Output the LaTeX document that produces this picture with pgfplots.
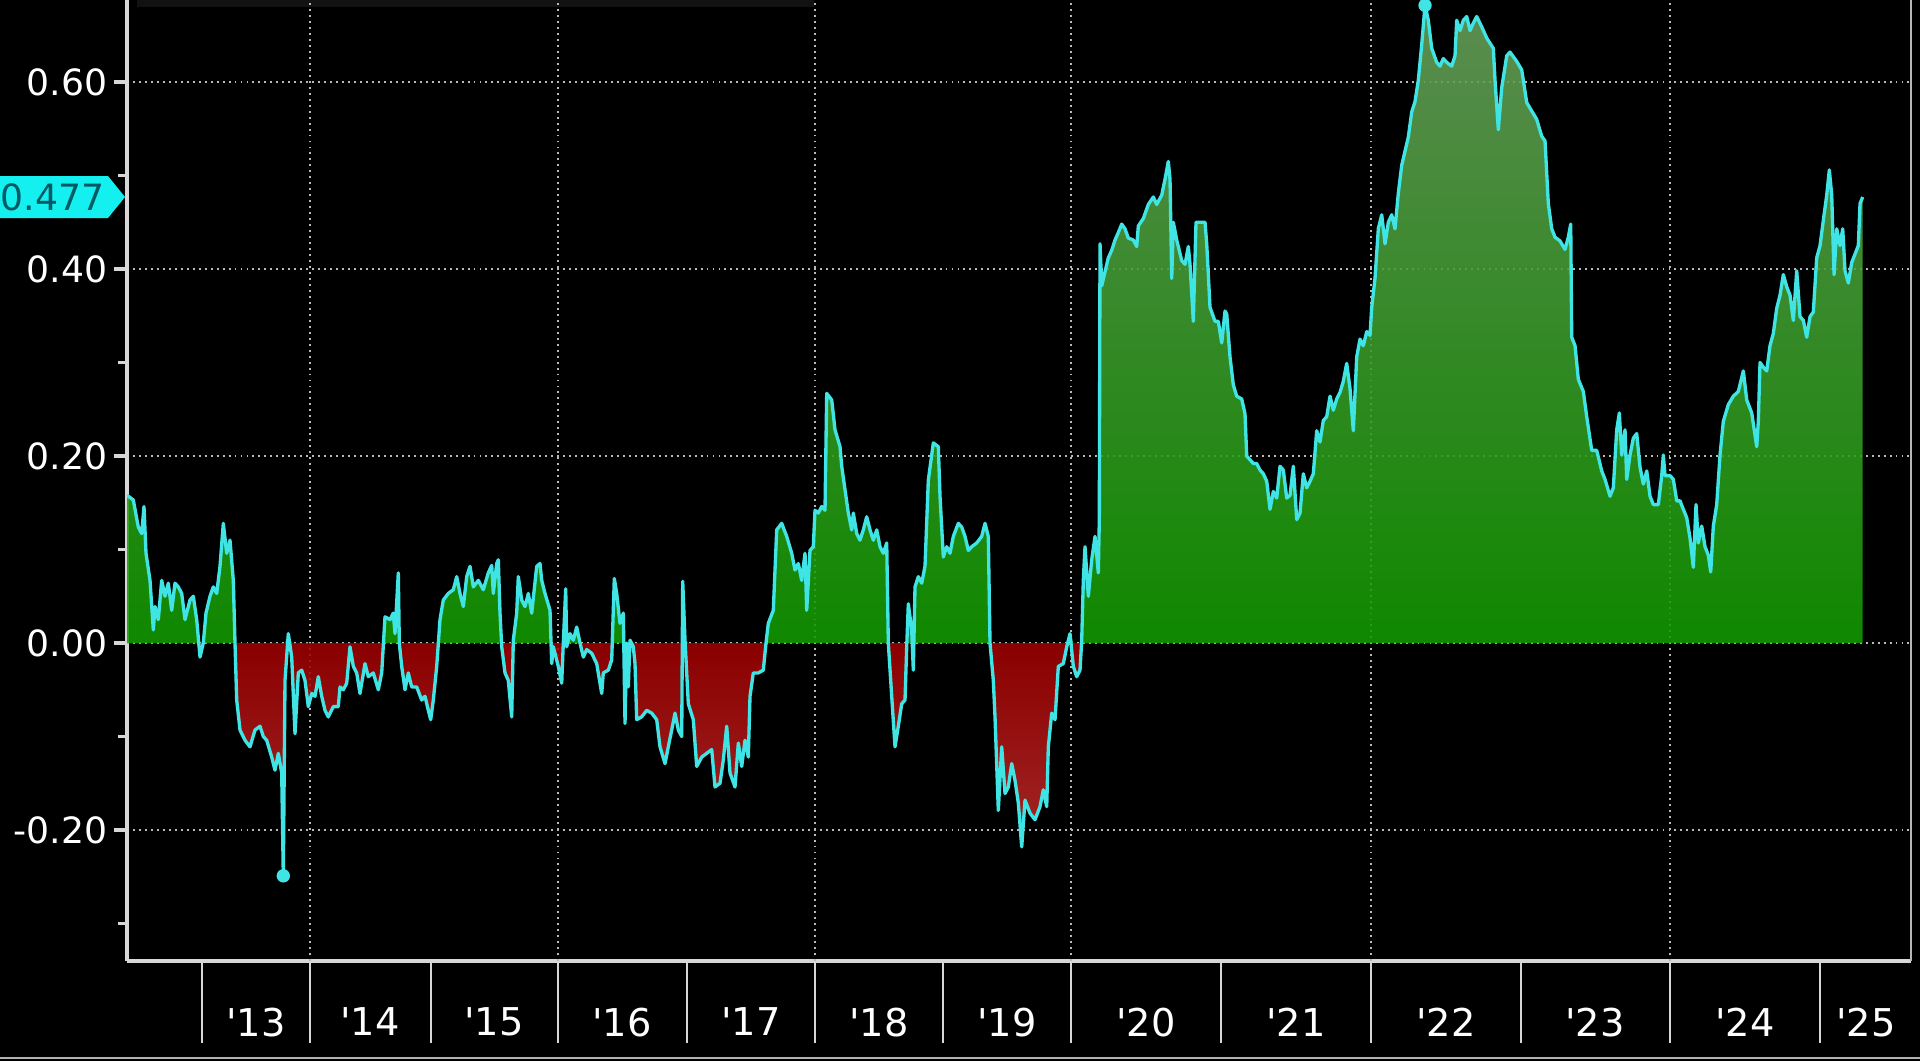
\documentclass[border=0pt]{standalone}
\usepackage{pgfplots}
\pgfplotsset{compat=1.18}
\usepackage{pgfplotstable}
\usepackage{fontspec}
\setmainfont{DejaVu Sans}
\usetikzlibrary{calc}

\definecolor{bbcyan}{RGB}{64,228,228}
\definecolor{tagcyan}{RGB}{20,240,240}
\definecolor{tagtext}{RGB}{0,90,100}
\definecolor{greenlo}{RGB}{18,155,0}
\definecolor{greenhi}{RGB}{105,160,92}
\definecolor{redlo}{RGB}{190,50,50}
\definecolor{redhi}{RGB}{158,0,0}
\definecolor{gridgray}{RGB}{185,185,185}
\definecolor{axisgray}{RGB}{215,215,215}

% t = position along the (non-uniform) time axis, v = correlation
\pgfplotstableread{
t v
127 0.158
133.3 0.153
138.3 0.124
141.7 0.117
144.0 0.146
146.0 0.096
150.0 0.067
153.3 0.014
155.0 0.039
158.3 0.025
161.7 0.067
165.0 0.050
168.3 0.064
171.7 0.035
175.0 0.064
178.3 0.060
181.7 0.053
185.0 0.025
190.0 0.046
193.3 0.050
196.7 0.025
200.0 -0.015
203.3 0.000
206.0 0.032
210.0 0.050
213.3 0.060
216.7 0.053
220.0 0.082
223.3 0.128
226.7 0.096
230.0 0.110
233.3 0.067
235.0 0.000
236.7 -0.061
240.0 -0.093
245.0 -0.104
250.0 -0.111
255.0 -0.093
260.0 -0.089
263.3 -0.100
266.7 -0.104
271.7 -0.122
275.0 -0.136
278.3 -0.118
281.7 -0.139
283.3 -0.249
285.0 -0.040
288.3 0.010
291.7 -0.015
295.0 -0.097
298.3 -0.032
301.7 -0.029
305.0 -0.040
308.3 -0.068
311.7 -0.054
315.0 -0.057
318.3 -0.036
321.7 -0.057
325.0 -0.072
328.3 -0.079
333.3 -0.068
338.3 -0.068
340.0 -0.047
343.3 -0.050
346.7 -0.043
350.0 -0.004
353.3 -0.025
356.7 -0.032
360.0 -0.054
365.0 -0.022
368.3 -0.036
373.3 -0.032
378.3 -0.050
381.7 -0.032
385.0 0.028
390.0 0.025
393.3 0.032
395.0 0.010
398.3 0.075
399.3 0.000
401.7 -0.025
405.0 -0.050
408.3 -0.032
411.7 -0.047
416.7 -0.047
421.7 -0.061
425.0 -0.057
428.3 -0.072
430.7 -0.082
433.3 -0.061
436.7 -0.025
440.0 0.025
443.3 0.046
448.3 0.053
453.3 0.057
456.7 0.071
460.0 0.053
463.3 0.039
466.7 0.071
470.0 0.082
473.3 0.060
478.3 0.067
483.3 0.057
488.3 0.075
491.7 0.083
493.3 0.053
496.7 0.085
498.3 0.089
500.0 0.032
501.7 -0.004
505.0 -0.032
508.3 -0.040
511.7 -0.079
513.3 0.003
516.7 0.032
518.3 0.071
521.7 0.046
525.0 0.039
528.3 0.053
531.7 0.032
536.7 0.082
540.0 0.085
541.7 0.067
545.0 0.053
550.0 0.035
551.7 -0.022
553.3 -0.004
555.0 -0.011
558.3 -0.025
561.7 -0.043
563.3 0.000
565.7 0.058
566.7 -0.004
570.0 0.010
573.3 0.003
576.7 0.017
580.0 0.000
583.3 -0.015
586.7 -0.007
591.7 -0.011
596.7 -0.022
601.7 -0.054
603.3 -0.032
608.3 -0.029
611.7 -0.018
614.3 0.069
616.7 0.053
620.0 0.021
623.3 0.032
625.0 -0.086
626.7 0.000
628.3 -0.047
630.0 0.003
633.3 -0.004
635.0 -0.022
636.7 -0.082
641.7 -0.079
646.7 -0.072
651.7 -0.075
656.7 -0.082
660.0 -0.111
665.0 -0.129
668.3 -0.111
671.7 -0.093
675.0 -0.075
678.3 -0.093
681.7 -0.100
682.7 0.066
685.0 0.003
688.3 -0.065
693.3 -0.082
696.7 -0.132
701.7 -0.122
706.7 -0.118
711.7 -0.114
715.0 -0.154
720.0 -0.150
723.3 -0.125
726.7 -0.089
730.0 -0.139
735.0 -0.154
738.3 -0.107
741.7 -0.132
745.0 -0.104
748.3 -0.122
750.0 -0.057
753.3 -0.032
758.3 -0.032
763.3 -0.029
766.0 0.000
768.3 0.021
773.3 0.035
776.7 0.121
781.7 0.128
786.7 0.114
791.7 0.096
795.0 0.078
798.3 0.085
801.7 0.067
805.0 0.096
806.7 0.035
810.0 0.099
813.3 0.103
815.0 0.142
818.3 0.139
821.7 0.146
825.0 0.142
826.7 0.267
831.7 0.260
835.0 0.228
840.0 0.210
841.7 0.189
845.0 0.164
848.3 0.139
851.7 0.121
853.3 0.139
856.7 0.117
860.0 0.110
863.3 0.121
866.7 0.135
870.0 0.121
873.3 0.110
876.7 0.121
880.0 0.103
883.3 0.096
886.7 0.107
888.3 0.000
891.7 -0.057
895.0 -0.111
898.3 -0.089
901.7 -0.065
905.0 -0.061
906.7 -0.004
908.3 0.042
911.7 0.014
913.3 -0.029
915.0 0.060
918.3 0.071
921.7 0.064
925.0 0.082
928.3 0.174
933.3 0.214
938.3 0.210
940.0 0.157
943.3 0.092
946.7 0.103
950.0 0.096
953.3 0.114
958.3 0.128
961.7 0.124
965.0 0.114
968.3 0.099
971.7 0.103
976.7 0.107
981.7 0.114
985.0 0.128
988.3 0.114
990.0 0.000
993.3 -0.040
995.0 -0.079
998.3 -0.179
1001.7 -0.111
1005.0 -0.161
1008.3 -0.154
1011.7 -0.129
1015.0 -0.147
1018.3 -0.171
1021.7 -0.218
1025.0 -0.168
1030.0 -0.182
1035.0 -0.189
1040.0 -0.175
1043.3 -0.157
1046.7 -0.175
1048.3 -0.111
1051.7 -0.075
1055.0 -0.082
1058.3 -0.025
1063.3 -0.022
1066.7 -0.004
1070.0 0.010
1073.3 -0.025
1076.7 -0.036
1080.0 -0.029
1081.7 0.003
1083.3 0.067
1085.0 0.103
1088.3 0.050
1091.7 0.089
1095.0 0.114
1098.3 0.075
1099.3 0.132
1100.0 0.427
1101.7 0.382
1105.0 0.397
1108.3 0.412
1111.7 0.420
1115.0 0.431
1118.3 0.439
1121.7 0.448
1125.0 0.443
1128.3 0.433
1133.3 0.431
1136.7 0.424
1138.3 0.446
1143.3 0.454
1148.3 0.469
1153.3 0.477
1156.7 0.469
1161.7 0.479
1165.0 0.496
1168.3 0.515
1170.0 0.496
1171.7 0.390
1173.3 0.450
1176.7 0.431
1181.7 0.409
1185.0 0.405
1188.3 0.424
1190.0 0.405
1193.3 0.344
1196.0 0.450
1200.0 0.450
1205.0 0.450
1206.7 0.427
1210.0 0.359
1215.0 0.344
1218.3 0.344
1221.7 0.321
1225.0 0.355
1226.7 0.352
1230.0 0.306
1233.3 0.276
1236.7 0.264
1241.7 0.261
1245.0 0.245
1246.7 0.200
1250.0 0.196
1253.3 0.192
1256.7 0.192
1260.0 0.185
1263.3 0.181
1266.7 0.173
1270.0 0.143
1273.3 0.162
1276.7 0.155
1280.0 0.189
1283.3 0.185
1286.7 0.155
1290.0 0.158
1293.3 0.189
1296.7 0.132
1300.0 0.139
1303.3 0.181
1306.7 0.166
1310.0 0.173
1313.3 0.181
1316.7 0.227
1320.0 0.215
1323.3 0.238
1326.7 0.242
1330.0 0.264
1333.3 0.249
1336.7 0.261
1340.0 0.268
1343.3 0.280
1346.7 0.299
1350.0 0.272
1353.3 0.227
1356.7 0.306
1360.0 0.325
1363.3 0.318
1366.7 0.333
1370.0 0.329
1371.7 0.359
1375.0 0.390
1378.3 0.443
1381.7 0.458
1385.0 0.427
1388.3 0.450
1391.7 0.458
1395.0 0.443
1398.3 0.481
1401.7 0.511
1405.0 0.526
1408.3 0.541
1411.7 0.568
1415.0 0.579
1418.3 0.602
1421.7 0.640
1425.0 0.682
1428.3 0.666
1431.7 0.636
1436.7 0.621
1440.0 0.617
1443.3 0.625
1446.7 0.621
1451.7 0.617
1455.0 0.628
1456.7 0.666
1460.0 0.655
1463.3 0.666
1466.7 0.670
1470.0 0.655
1473.3 0.663
1476.7 0.670
1481.7 0.659
1486.7 0.647
1493.3 0.636
1495.0 0.602
1498.3 0.549
1501.7 0.594
1506.7 0.628
1510.0 0.632
1516.7 0.622
1521.7 0.613
1526.7 0.578
1531.7 0.569
1536.7 0.560
1541.7 0.542
1545.0 0.537
1548.3 0.470
1551.7 0.443
1555.0 0.434
1560.0 0.430
1565.0 0.421
1568.3 0.434
1570.7 0.448
1571.7 0.327
1575.0 0.318
1578.3 0.282
1583.3 0.269
1586.7 0.242
1591.7 0.206
1596.7 0.206
1601.7 0.184
1605.0 0.175
1610.0 0.157
1613.3 0.166
1616.7 0.228
1619.3 0.246
1621.7 0.201
1625.0 0.228
1626.7 0.175
1630.0 0.201
1633.3 0.219
1636.7 0.224
1640.0 0.188
1643.3 0.170
1646.7 0.184
1650.0 0.157
1653.3 0.148
1658.3 0.148
1661.7 0.179
1663.3 0.201
1665.0 0.179
1670.0 0.179
1673.3 0.175
1676.7 0.152
1680.0 0.152
1683.3 0.143
1686.7 0.134
1690.0 0.112
1693.3 0.081
1696.0 0.148
1698.3 0.107
1701.7 0.125
1705.0 0.103
1708.3 0.094
1710.7 0.076
1713.3 0.125
1716.7 0.148
1720.0 0.201
1723.3 0.237
1728.3 0.255
1733.3 0.264
1738.3 0.269
1743.3 0.291
1746.7 0.260
1751.7 0.246
1756.7 0.210
1758.3 0.237
1760.0 0.300
1763.3 0.295
1766.7 0.291
1770.0 0.318
1773.3 0.331
1776.7 0.358
1780.0 0.372
1783.3 0.394
1786.7 0.381
1790.0 0.372
1793.3 0.345
1796.7 0.398
1800.0 0.349
1803.3 0.345
1806.7 0.327
1810.0 0.349
1813.3 0.354
1816.7 0.412
1820.0 0.425
1823.3 0.452
1826.7 0.479
1829.3 0.506
1831.7 0.479
1834.0 0.394
1836.7 0.443
1840.0 0.425
1842.7 0.443
1845.0 0.398
1848.3 0.385
1851.7 0.407
1855.0 0.416
1858.3 0.425
1860.0 0.470
1862.7 0.477
}\corrdata

\begin{document}
\begin{tikzpicture}
\useasboundingbox (0,0) rectangle (19.2,10.61);
\fill[black] (0,0) rectangle (19.2,10.61);
\fill[black!93!white] (1.37,10.54) rectangle (8.14,10.61);

\begin{axis}[
    at={(1.27cm,1.0cm)}, anchor=south west,
    scale only axis, width=17.84cm, height=9.61cm,
    xmin=127, xmax=1911, ymin=-0.3401, ymax=0.6877,
    axis x line*=bottom, axis y line*=left,
    axis line style={axisgray, line width=0.9pt},
    xtick={256,370,494,622,751,879,1007,1146,1296,1446,1595,1745,1866},
    xticklabels={\textquotesingle13,\textquotesingle14,\textquotesingle15,\textquotesingle16,\textquotesingle17,\textquotesingle18,\textquotesingle19,\textquotesingle20,\textquotesingle21,\textquotesingle22,\textquotesingle23,\textquotesingle24,\textquotesingle25},
    x tick style={draw=none},
    xticklabel style={anchor=north, inner sep=0pt, yshift=-3.3mm, font=\fontsize{10.9}{13}\selectfont},
    extra x ticks={310,558,815,1071,1371,1670},
    extra x tick labels={},
    extra x tick style={grid=major},
    ytick={-0.2,0,0.2,0.4,0.6},
    minor ytick={-0.3,-0.1,0.1,0.3,0.5},
    ymajorgrids=true,
    tick align=outside,
    major tick length=1.3mm, minor tick length=0.9mm,
    y tick style={axisgray, line width=0.9pt},
    minor tick style={line width=0.6pt},
    major grid style={gridgray, line width=0.55pt, dash pattern=on 0.55pt off 1.15pt},
    yticklabel style={inner sep=0.6mm, font=\fontsize{10.3}{12}\selectfont,
        /pgf/number format/.cd, fixed, fixed zerofill, precision=2, assume math mode=true},
    tick label style={text=white},
]
\addplot[draw=none, fill opacity=0.88, top color=greenhi, bottom color=greenlo,
    y filter/.expression={max(y,0)}] table[x=t, y=v] {\corrdata} \closedcycle;
\addplot[draw=none, fill opacity=0.88, top color=redhi, bottom color=redlo,
    y filter/.expression={min(y,0)}] table[x=t, y=v] {\corrdata} \closedcycle;
\addplot[bbcyan, line width=0.95pt, line join=round] table[x=t, y=v] {\corrdata};
\addplot[only marks, mark=*, mark size=1.7pt, bbcyan] coordinates {(283.3,-0.249) (1425.0,0.682)};
\coordinate (tag) at (axis cs:127,0.477);
\end{axis}

% year separators below the axis
\foreach \s in {2.02,3.10,4.31,5.58,6.87,8.15,9.43,10.71,12.21,13.71,15.21,16.70,18.20}
  \draw[axisgray, line width=0.6pt] (\s,1.0) -- (\s,0.18);
\draw[axisgray!85!black, line width=0.7pt] (19.11,1.0) -- (19.11,10.61);
\draw[white!70!black, line width=0.8pt] (0,0.03) -- (19.2,0.03);

% last value tag
\fill[tagcyan] ($(tag)+(-1.45,0.21)$) -- ($(tag)+(-0.19,0.21)$) -- ($(tag)+(-0.02,0)$)
  -- ($(tag)+(-0.19,-0.21)$) -- ($(tag)+(-1.45,-0.21)$) -- cycle;
\node[anchor=east, inner sep=0pt, text=tagtext, font=\fontsize{10.3}{12}\selectfont]
  at ($(tag)+(-0.22,0)$) {0.477};
\end{tikzpicture}
\end{document}
